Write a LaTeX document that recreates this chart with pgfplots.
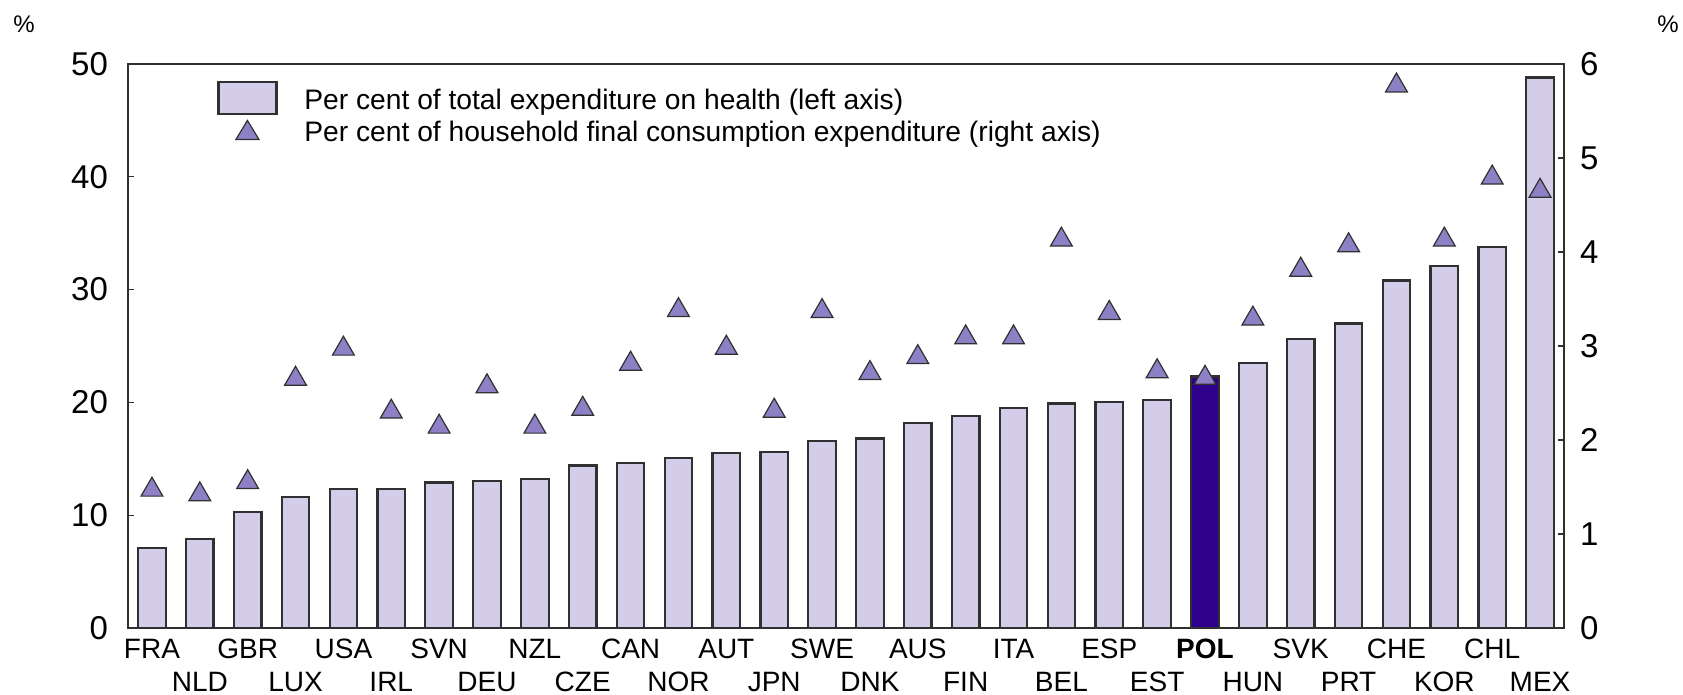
\documentclass[border=0pt]{standalone}
\usepackage{fontspec}
\setmainfont{Liberation Sans}
\usepackage{pgfplots}
\pgfplotsset{compat=1.18}
\definecolor{barc}{HTML}{D3CDE9}
\definecolor{polc}{HTML}{2E008B}
\definecolor{tric}{HTML}{8E80C4}
\definecolor{edgec}{HTML}{303030}
\begin{document}
\begin{tikzpicture}
\useasboundingbox (0,0) rectangle (841.5pt,347.5pt);
\begin{axis}[
  at={(64pt,33.5pt)}, anchor=south west,
  width=718pt, height=282pt, scale only axis,
  xmin=-0.5, xmax=29.5, ymin=0, ymax=50,
  ytick={0,10,...,50}, ytick pos=left,
  xtick={0,...,29}, xtick pos=bottom,
  tick align=inside, major tick length=3pt,
  tick style={edgec, line width=0.6pt},
  axis line style={edgec, line width=0.9pt},
  /pgf/number format/assume math mode=true,
  yticklabel style={font=\fontsize{16.5}{16.5}\selectfont, xshift=-6.5pt},
  xticklabel style={font=\fontsize{14}{16.8}\selectfont, align=center, anchor=north, yshift=-2pt},
  xticklabels={FRA,{\vphantom{A}\\NLD},GBR,{\vphantom{A}\\LUX},USA,{\vphantom{A}\\IRL},SVN,{\vphantom{A}\\DEU},NZL,{\vphantom{A}\\CZE},CAN,{\vphantom{A}\\NOR},AUT,{\vphantom{A}\\JPN},SWE,{\vphantom{A}\\DNK},AUS,{\vphantom{A}\\FIN},ITA,{\vphantom{A}\\BEL},ESP,{\vphantom{A}\\EST},\textbf{POL},{\vphantom{A}\\HUN},SVK,{\vphantom{A}\\PRT},CHE,{\vphantom{A}\\KOR},CHL,{\vphantom{A}\\MEX}},
  legend style={draw=none, fill=none, inner sep=0pt, at={(rel axis cs:0.0627,0.9564)}, anchor=north west,
    font=\fontsize{14.1}{16}\selectfont, row sep=4.3pt, nodes={inner sep=0pt},
    /tikz/every odd column/.append style={column sep=14pt}},
  legend cell align=left,
]
\addplot[ybar, bar shift=0pt, bar width=0.575, fill=barc, draw=edgec, line width=1.1pt,
  legend image code/.code={
    \path[draw=none, fill=none] (0pt,0pt) rectangle (29pt,0pt);
    \draw[overlay, fill=barc, draw=edgec, line width=1.1pt] (0pt,-6.6pt) rectangle (29pt,9.4pt);}]
coordinates {
(0,7.1) (1,7.9) (2,10.3) (3,11.6) (4,12.3) (5,12.3) (6,12.9) (7,13.0) (8,13.2) (9,14.4)
(10,14.6) (11,15.1) (12,15.5) (13,15.6) (14,16.6) (15,16.8) (16,18.2) (17,18.8) (18,19.5) (19,19.9)
(20,20.0) (21,20.2) (23,23.5) (24,25.6) (25,27.0) (26,30.8) (27,32.1) (28,33.8) (29,48.8)
};
\addlegendentry{Per cent of total expenditure on health (left axis)}
\addplot[ybar, bar shift=0pt, bar width=0.575, fill=polc, draw=edgec, line width=1.1pt, forget plot]
coordinates {(22,22.3)};
\addlegendimage{legend image code/.code={
  \path[draw=none, fill=none] (0pt,0pt) rectangle (29pt,0pt);
  \draw[overlay, fill=tric, draw=edgec, line width=0.6pt] (8.75pt,-3.35pt) -- (20.25pt,-3.35pt) -- (14.5pt,6.15pt) -- cycle;}}
\addlegendentry{Per cent of household final consumption expenditure (right axis)}
\end{axis}
\begin{axis}[
  at={(64pt,33.5pt)}, anchor=south west,
  width=718pt, height=282pt, scale only axis,
  xmin=-0.5, xmax=29.5, ymin=0, ymax=6,
  axis x line=none, axis y line*=right,
  ytick={0,...,6},
  tick align=inside, major tick length=3pt,
  tick style={edgec, line width=0.6pt},
  axis line style={edgec, line width=0.9pt, -},
  /pgf/number format/assume math mode=true,
  yticklabel style={font=\fontsize{16.5}{16.5}\selectfont, xshift=4.5pt},
]
\addplot[only marks, mark=triangle*, mark size=6.3pt, mark options={fill=tric, draw=edgec, line width=0.6pt}]
coordinates {
(0,1.47) (1,1.42) (2,1.55) (3,2.65) (4,2.97) (5,2.30) (6,2.14) (7,2.57) (8,2.14) (9,2.33)
(10,2.81) (11,3.38) (12,2.98) (13,2.31) (14,3.37) (15,2.71) (16,2.88) (17,3.09) (18,3.09) (19,4.13)
(20,3.35) (21,2.73) (22,2.66) (23,3.29) (24,3.81) (25,4.07) (26,5.77) (27,4.13) (28,4.79) (29,4.65)
};
\end{axis}
\node[font=\fontsize{12}{14}\selectfont] at (12pt,335.5pt) {\%};
\node[font=\fontsize{12}{14}\selectfont] at (834pt,335.5pt) {\%};
\end{tikzpicture}
\end{document}
